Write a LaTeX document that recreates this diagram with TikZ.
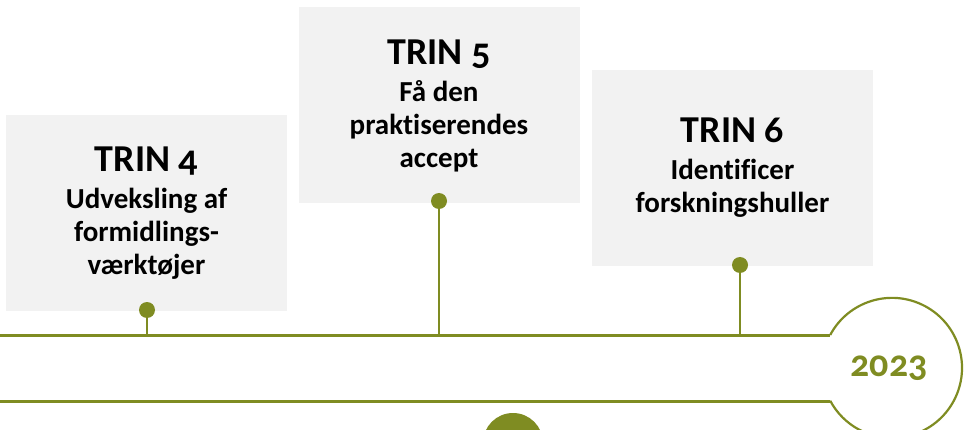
\documentclass[tikz,border=0pt]{standalone}
\usepackage{fontspec}
\setmainfont{Carlito}[Numbers=OldStyle, Ligatures=NoCommon]
\usetikzlibrary{positioning}
\definecolor{trgreen}{RGB}{127,140,34}
\definecolor{boxgray}{RGB}{242,242,242}
\newcommand{\trinfont}{\fontsize{38}{42}\selectfont}
\newcommand{\subfont}{\fontsize{29}{33}\selectfont}

\begin{document}
\begin{tikzpicture}[x=1pt,y=1pt,
  stepbox/.style={fill=boxgray, minimum width=281pt, minimum height=196pt, inner sep=0pt, align=center, font=\bfseries\subfont},
  dot/.style={circle, fill=trgreen, inner sep=0pt, minimum size=16pt},
  stem/.style={draw=trgreen, line width=2pt},
  rail/.style={draw=trgreen, line width=3pt}]
\useasboundingbox (0,0) rectangle (967,429);

\node[stepbox] (trin4) at (146.5,216) {{\trinfont TRIN 4}\\[4pt]Udveksling af\\formidlings-\\værktøjer};
\node[stepbox] (trin5) at (439,323.5) {{\trinfont TRIN 5}\\[4pt]Få den\\praktiserendes\\accept};
\node[stepbox] (trin6) at (732.5,261) {{\trinfont TRIN 6}\\[4pt]Identificer\\forskningshuller};

\coordinate (b4) at (147,94);
\coordinate (b5) at (439,94);
\coordinate (b6) at (740,94);
\node[dot] (d4) at (147,119) {};
\node[dot] (d5) at (439,228) {};
\node[dot] (d6) at (740,164) {};
\draw[stem] (d4) -- (b4);
\draw[stem] (d5) -- (b5);
\draw[stem] (d6) -- (b6);

% timeline with the year bubble
\coordinate (railtop) at (0,94);
\coordinate (railbot) at (0,28);
\draw[rail] (railtop) -- (830.2,94);
\draw[rail] (railbot) -- (830.2,28);
\draw[trgreen, line width=2.2pt] (830.2,94) arc[start angle=152, end angle=-152, radius=70];
\node[text=trgreen, font=\bfseries\fontsize{38}{38}\selectfont] (year) at (889,61) {2023};

\node[dot, minimum size=60pt] (mark) at (513,-14) {};
\end{tikzpicture}
\end{document}
